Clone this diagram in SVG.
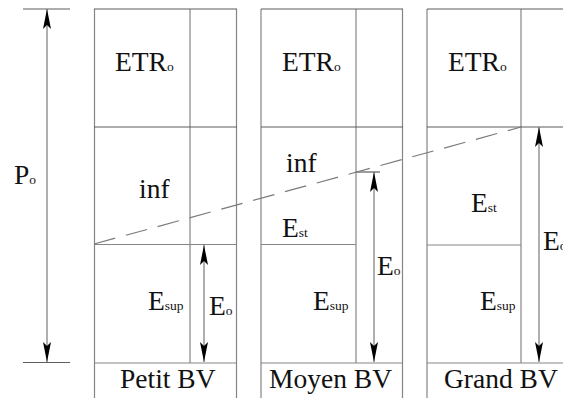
<svg xmlns="http://www.w3.org/2000/svg" width="563" height="398" viewBox="0 0 563 398">
  <style>
    .frame{fill:none;stroke:#858585;stroke-width:1.2}
    .rule{fill:none;stroke:#5c5c5c;stroke-width:1.2}
    .shaft{fill:none;stroke:#7a7a7a;stroke-width:1.2}
    .lbl{font-family:'Liberation Serif','Times New Roman',serif;font-size:27.5px;fill:#111}
    .sub{font-size:13.5px}
  </style>
  <defs>
    <marker id="head" viewBox="-21 -5 22 10" refX="0" refY="0" markerWidth="22" markerHeight="10" markerUnits="userSpaceOnUse" orient="auto-start-reverse">
      <path d="M0,0 L-20,-4 L-16,0 L-20,4 Z" fill="#000"/>
    </marker>
  </defs>
  <rect width="563" height="398" fill="#fff"/>

  <!-- precipitation scale -->
  <g id="precipitation">
    <line class="rule" x1="23" y1="9" x2="70" y2="9"/>
    <line class="rule" x1="23" y1="362.5" x2="70" y2="362.5"/>
    <text class="lbl" x="14" y="184">P<tspan class="sub">o</tspan></text>
  </g>

  <!-- small basin -->
  <g id="petit-bv">
    <line class="frame" x1="94.5" y1="9" x2="94.5" y2="398"/>
    <line class="frame" x1="236.5" y1="9" x2="236.5" y2="398"/>
    <line class="frame" x1="190" y1="9" x2="190" y2="363"/>
    <line class="rule" x1="94" y1="9" x2="237" y2="9"/>
    <line class="rule" x1="94" y1="127" x2="237" y2="127"/>
    <line class="frame" x1="94" y1="244.5" x2="237" y2="244.5"/>
    <line class="frame" x1="94" y1="363" x2="237" y2="363"/>
    <text class="lbl" x="115" y="71">ETR<tspan class="sub">o</tspan></text>
    <text class="lbl" x="139" y="198">inf</text>
    <text class="lbl" x="148" y="310">E<tspan class="sub">sup</tspan></text>
    <text class="lbl" x="209" y="315">E<tspan class="sub">o</tspan></text>
    <text class="lbl" x="120" y="388">Petit BV</text>
  </g>

  <!-- medium basin -->
  <g id="moyen-bv">
    <line class="frame" x1="261" y1="9" x2="261" y2="398"/>
    <line class="frame" x1="402.5" y1="9" x2="402.5" y2="398"/>
    <line class="frame" x1="356" y1="9" x2="356" y2="363"/>
    <line class="rule" x1="261" y1="9" x2="403" y2="9"/>
    <line class="rule" x1="261" y1="127" x2="403" y2="127"/>
    <line class="frame" x1="261" y1="244.5" x2="356" y2="244.5"/>
    <line class="frame" x1="261" y1="363" x2="403" y2="363"/>
    <line class="rule" x1="356" y1="172" x2="380" y2="172"/>
    <text class="lbl" x="282" y="71">ETR<tspan class="sub">o</tspan></text>
    <text class="lbl" x="286" y="172">inf</text>
    <text class="lbl" x="282" y="237">E<tspan class="sub">st</tspan></text>
    <text class="lbl" x="313" y="310">E<tspan class="sub">sup</tspan></text>
    <text class="lbl" x="377" y="275">E<tspan class="sub">o</tspan></text>
    <text class="lbl" x="269" y="388">Moyen BV</text>
  </g>

  <!-- large basin -->
  <g id="grand-bv">
    <line class="frame" x1="427" y1="9" x2="427" y2="398"/>
    <line class="frame" x1="569" y1="9" x2="569" y2="398"/>
    <line class="frame" x1="521" y1="9" x2="521" y2="363"/>
    <line class="rule" x1="427" y1="9" x2="569" y2="9"/>
    <line class="rule" x1="427" y1="127" x2="569" y2="127"/>
    <line class="frame" x1="427" y1="245" x2="521" y2="245"/>
    <line class="frame" x1="427" y1="363" x2="569" y2="363"/>
    <text class="lbl" x="448" y="71">ETR<tspan class="sub">o</tspan></text>
    <text class="lbl" x="471" y="212">E<tspan class="sub">st</tspan></text>
    <text class="lbl" x="480" y="310">E<tspan class="sub">sup</tspan></text>
    <text class="lbl" x="543" y="250">E<tspan class="sub">o</tspan></text>
    <text class="lbl" x="444" y="388">Grand BV</text>
  </g>

  <!-- infiltration limit and dimension arrows -->
  <g id="connectors">
    <line class="shaft" x1="94" y1="244" x2="521" y2="127" stroke-dasharray="22 11"/>
    <line class="shaft" x1="47" y1="9" x2="47" y2="362" marker-start="url(#head)" marker-end="url(#head)"/>
    <line class="shaft" x1="204" y1="245" x2="204" y2="362" marker-start="url(#head)" marker-end="url(#head)"/>
    <line class="shaft" x1="374" y1="172" x2="374" y2="362" marker-start="url(#head)" marker-end="url(#head)"/>
    <line class="shaft" x1="539" y1="127" x2="539" y2="362" marker-start="url(#head)" marker-end="url(#head)"/>
  </g>
</svg>
